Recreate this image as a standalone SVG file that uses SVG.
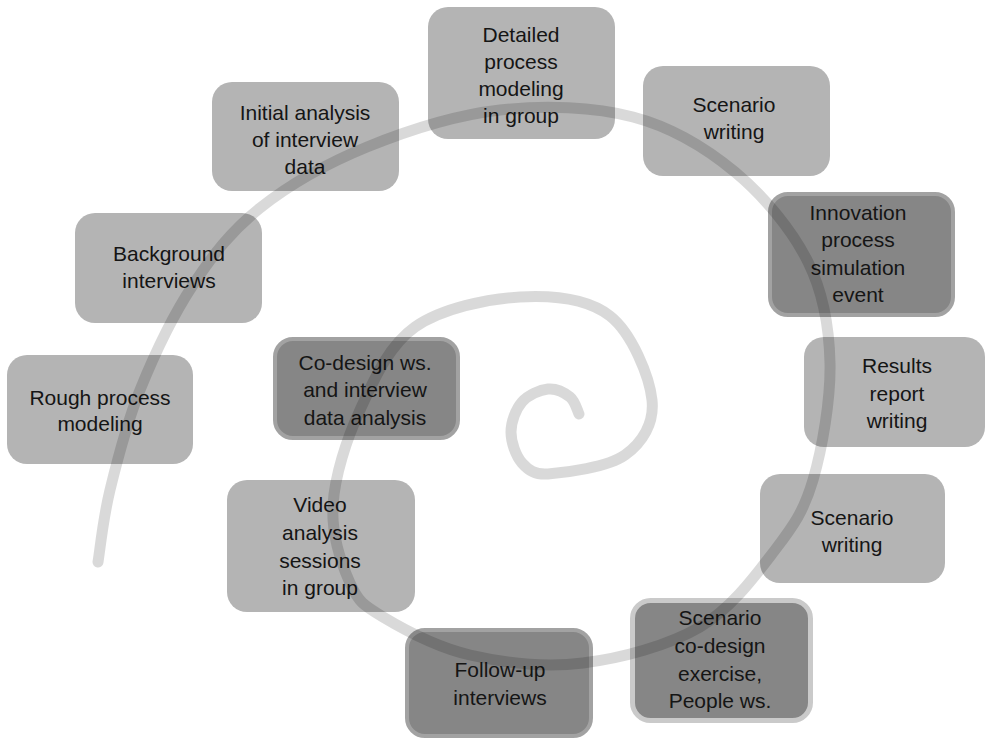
<svg xmlns="http://www.w3.org/2000/svg" width="987" height="739" viewBox="0 0 987 739">
<style>
.box{fill:#b4b4b4;}
.dark{fill:#868686;stroke:#a2a2a2;stroke-width:4;}
.dark2{fill:#868686;stroke:#cacaca;stroke-width:5;}
text{font-family:"Liberation Sans",Arial,sans-serif;font-size:21px;fill:#151515;text-anchor:middle;}
.spiral{fill:none;stroke:#000;stroke-opacity:0.15;stroke-width:11;stroke-linecap:round;}
</style>
<rect width="987" height="739" fill="#fff"/>
<g id="n-rough"><rect class="box" x="7" y="355" width="186" height="109" rx="20"/><text x="100" y="405">Rough process</text><text x="100" y="431">modeling</text></g>
<g id="n-background"><rect class="box" x="75" y="213" width="187" height="110" rx="20"/><text x="169" y="261">Background</text><text x="169" y="288">interviews</text></g>
<g id="n-initial"><rect class="box" x="212" y="82" width="187" height="109" rx="20"/><text x="305" y="120">Initial analysis</text><text x="305" y="147">of interview</text><text x="305" y="174">data</text></g>
<g id="n-detailed"><rect class="box" x="428" y="7" width="187" height="132" rx="20"/><text x="521" y="42">Detailed</text><text x="521" y="69">process</text><text x="521" y="96">modeling</text><text x="521" y="123">in group</text></g>
<g id="n-scenario1"><rect class="box" x="643" y="66" width="187" height="110" rx="20"/><text x="734" y="112">Scenario</text><text x="734" y="139">writing</text></g>
<g id="n-innovation"><rect class="dark" x="770" y="194" width="183" height="121" rx="18"/><text x="858" y="220">Innovation</text><text x="858" y="247">process</text><text x="858" y="275">simulation</text><text x="858" y="302">event</text></g>
<g id="n-results"><rect class="box" x="804" y="337" width="181" height="110" rx="20"/><text x="897" y="373">Results</text><text x="897" y="401">report</text><text x="897" y="428">writing</text></g>
<g id="n-scenario2"><rect class="box" x="760" y="474" width="185" height="109" rx="20"/><text x="852" y="525">Scenario</text><text x="852" y="552">writing</text></g>
<g id="n-codesign-ex"><rect class="dark2" x="632.5" y="600.5" width="178" height="120" rx="18"/><text x="720" y="625">Scenario</text><text x="720" y="653">co-design</text><text x="720" y="681">exercise,</text><text x="720" y="708">People ws.</text></g>
<g id="n-followup"><rect class="dark" x="407" y="630" width="184" height="106" rx="18"/><text x="500" y="677">Follow-up</text><text x="500" y="705">interviews</text></g>
<g id="n-video"><rect class="box" x="227" y="480" width="188" height="132" rx="20"/><text x="320" y="512">Video</text><text x="320" y="540">analysis</text><text x="320" y="568">sessions</text><text x="320" y="595">in group</text></g>
<g id="n-codesign-ws"><rect class="dark" x="275" y="339" width="183" height="99" rx="18"/><text x="365" y="370">Co-design ws.</text><text x="365" y="397">and interview</text><text x="365" y="425">data analysis</text></g>
<g id="connectors">
<path class="spiral" d="M98,562 C100,550 103,518.7 110,490 C117,461.3 126.2,424.2 140,390 C153.8,355.8 173,315.3 193,285 C213,254.7 231,231 260,208 C289,185 327,163.3 367,147 C407,130.7 455.7,115 500,110 C544.3,105 593.8,106.7 633,117 C672.2,127.3 705.8,147.8 735,172 C764.2,196.2 792.2,230.2 808,262 C823.8,293.8 829.2,326.7 830,363 C830.8,399.3 822.2,448.8 813,480 C803.8,511.2 793.8,525.5 775,550 C756.2,574.5 732,608.2 700,627 C668,645.8 621.3,658.3 583,663 C544.7,667.7 503.3,662.7 470,655 C436.7,647.3 403,629 383,617 C363,605 358.3,601.7 350,583 C341.7,564.3 331.3,533.8 333,505 C334.7,476.2 346.3,439.7 360,410 C373.7,380.3 388.3,345.8 415,327 C441.7,308.2 487.5,298.8 520,297 C552.5,295.2 588,298.8 610,316 C632,333.2 649.5,376.8 652,400 C654.5,423.2 642.3,442.7 625,455 C607.7,467.3 565.2,472.7 548,474 C535,475 528.2,470 522,463 C515.8,456 511,442.2 511,432 C511,421.8 515.8,409.2 522,402 C528.2,394.8 540,389.8 548,389 C556,388.2 564.8,392.8 570,397 C575.2,401.2 577.5,411.2 579,414"/>
</g>
</svg>
